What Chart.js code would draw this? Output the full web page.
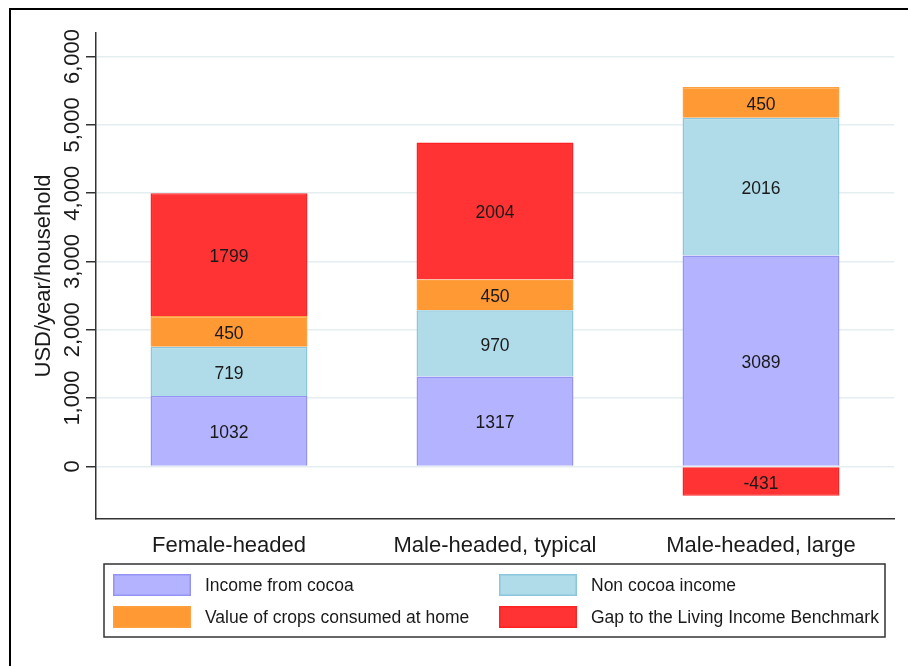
<!DOCTYPE html>
<html><head><meta charset="utf-8">
<script src="https://cdn.jsdelivr.net/npm/chart.js@4/dist/chart.umd.min.js"></script>
<style>html,body{margin:0;padding:0;background:#fff}#wrap{width:908px;height:666px;position:relative}</style>
</head><body><div id="wrap"><canvas id="c"></canvas></div>
<script>
const categories = ['Female-headed', 'Male-headed, typical', 'Male-headed, large'];
const seriesNames = ['Income from cocoa', 'Non cocoa income', 'Value of crops consumed at home', 'Gap to the Living Income Benchmark'];
const incomeFromCocoa = [1032, 1317, 3089];
const nonCocoaIncome = [719, 970, 2016];
const cropsConsumedAtHome = [450, 450, 450];
const gapToBenchmark = [1799, 2004, -431];
const yTickValues = [0, 1000, 2000, 3000, 4000, 5000, 6000];
const yAxisTitle = 'USD/year/household';

const FONT = "'Liberation Sans', Arial, sans-serif";
const TEXT = '#1a1a1a';

const valueLabels = {
  id: 'valueLabels',
  afterDatasetsDraw(chart) {
    const ctx = chart.ctx;
    ctx.save();
    ctx.font = '17.5px ' + FONT;
    ctx.fillStyle = TEXT;
    ctx.textAlign = 'center';
    ctx.textBaseline = 'middle';
    chart.data.datasets.forEach((ds, i) => {
      const meta = chart.getDatasetMeta(i);
      meta.data.forEach((bar, j) => {
        const p = bar.getProps(['x', 'y', 'base'], true);
        ctx.fillText(String(ds.data[j]), p.x, (p.y + p.base) / 2 + 2.5);
      });
    });
    ctx.restore();
  }
};

const boxLegend = {
  id: 'boxLegend',
  afterDraw(chart) {
    const ctx = chart.ctx;
    ctx.save();
    ctx.strokeStyle = '#333';
    ctx.lineWidth = 1.5;
    ctx.strokeRect(104, 564, 781, 73);
    const cols = [113, 499], rows = [574, 606];
    chart.data.datasets.forEach((ds, i) => {
      const cx = cols[i % 2], cy = rows[Math.floor(i / 2)];
      ctx.fillStyle = ds.backgroundColor;
      ctx.fillRect(cx, cy, 78, 22);
      ctx.strokeStyle = ds.borderColor;
      ctx.lineWidth = 1.5;
      ctx.strokeRect(cx + 0.75, cy + 0.75, 76.5, 20.5);
      ctx.fillStyle = TEXT;
      ctx.font = '17.5px ' + FONT;
      ctx.textBaseline = 'middle';
      ctx.textAlign = 'left';
      ctx.fillText(ds.label, cx + 92, cy + 12);
    });
    // outer frame
    ctx.fillStyle = '#000';
    ctx.fillRect(9, 8, 899, 2);
    ctx.fillRect(9, 8, 2, 658);
    ctx.restore();
  }
};

const whiteBg = {
  id: 'whiteBg',
  beforeDraw(chart) {
    const ctx = chart.ctx;
    ctx.save();
    ctx.fillStyle = '#fff';
    ctx.fillRect(0, 0, chart.width, chart.height);
    ctx.restore();
  }
};

const colors = [
  ['#b3b3ff', '#9494f5'],
  ['#b0dbe8', '#8ac6dc'],
  ['#ff9933', '#ffa040'],
  ['#ff3333', '#ff2222']
];
const seriesData = [incomeFromCocoa, nonCocoaIncome, cropsConsumedAtHome, gapToBenchmark];

new Chart(document.getElementById('c'), {
  type: 'bar',
  data: {
    labels: categories,
    datasets: seriesNames.map((name, i) => ({
      label: name,
      data: seriesData[i],
      backgroundColor: colors[i][0],
      borderColor: colors[i][1],
      borderWidth: 1.5,
      barPercentage: 0.59,
      categoryPercentage: 1.0
    }))
  },
  options: {
    responsive: true,
    maintainAspectRatio: false,
    animation: false,
    layout: { padding: { top: 33, right: 14, bottom: 0, left: 0 } },
    plugins: { legend: { display: false }, tooltip: { enabled: false } },
    scales: {
      x: {
        stacked: true,
        grid: { display: false },
        border: { display: true, color: '#333', width: 1.5 },
        ticks: { font: { family: FONT, size: 22 }, color: TEXT, padding: 6 },
        afterFit(s) { s.height = 147; }
      },
      y: {
        stacked: true,
        min: -770,
        max: 6345,
        afterBuildTicks(s) { s.ticks = yTickValues.map(v => ({ value: v })); },
        grid: { color: '#e4eef1', lineWidth: 1.5, tickColor: '#333', tickWidth: 1.5, tickLength: 10, drawTicks: true },
        border: { display: true, color: '#333', width: 1.5 },
        ticks: {
          font: { family: FONT, size: 22 }, color: TEXT,
          minRotation: 90, maxRotation: 90, crossAlign: 'center', padding: -14,
          callback: v => Number(v).toLocaleString('en-US')
        },
        title: { display: true, text: yAxisTitle, font: { family: FONT, size: 22 }, color: TEXT, padding: { top: 31, bottom: 0 } },
        afterFit(s) { s.width = 96; }
      }
    }
  },
  plugins: [whiteBg, valueLabels, boxLegend]
});
</script>
</body></html>
